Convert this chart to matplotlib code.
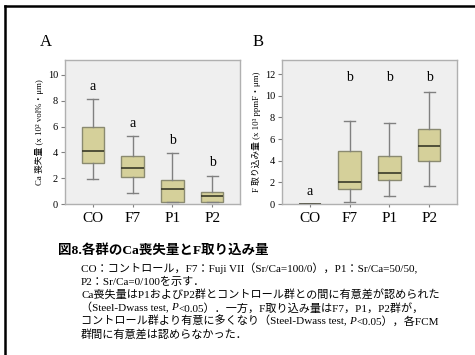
import matplotlib
matplotlib.use('Agg')
import matplotlib.pyplot as plt
from matplotlib.lines import Line2D

plt.rcParams['font.family'] = ['Liberation Serif', 'Noto Sans CJK JP']

## data
groups = ['CO', 'F7', 'P1', 'P2']
# Ca loss (x10^2 vol%・um)
ca_whislo = [1.95, 0.83, 0.12, 0.15]
ca_q1 = [3.15, 2.12, 0.13, 0.18]
ca_med = [4.1, 2.82, 1.16, 0.62]
ca_q3 = [6.0, 3.75, 1.86, 0.96]
ca_whishi = [8.15, 5.25, 3.98, 2.17]
ca_letters = ['a', 'a', 'b', 'b']
ca_letter_y = [8.6, 5.7, 4.4, 2.7]
# F uptake (x10^3 ppmF・um)
f_whislo = [0.0, 0.22, 0.77, 1.67]
f_q1 = [0.0, 1.36, 2.22, 4.01]
f_med = [0.0, 2.07, 2.9, 5.37]
f_q3 = [0.0, 4.85, 4.44, 6.91]
f_whishi = [0.0, 7.7, 7.47, 10.37]
f_letters = ['a', 'b', 'b', 'b']
f_letter_y = [0.6, 11.1, 11.1, 11.1]

caption_title = '図8.各群のCa喪失量とF取り込み量'
caption_lines = [
    [('CO：コントロール，F7：Fuji VII（Sr/Ca=100/0），P1：Sr/Ca=50/50,', 'normal')],
    [('P2：Sr/Ca=0/100を示す．', 'normal')],
    [('Ca喪失量はP1およびP2群とコントロール群との間に有意差が認められた', 'normal')],
    [('（Steel-Dwass test, ', 'normal'), ('P', 'italic'), ('<0.05）．一方，F取り込み量はF7，P1，P2群が，', 'normal')],
    [('コントロール群より有意に多くなり（Steel-Dwass test, ', 'normal'), ('P', 'italic'), ('<0.05），各FCM', 'normal')],
    [('群間に有意差は認めらなかった．', 'normal')],
]

W, H = 475, 355
fig = plt.figure(figsize=(W/100, H/100), dpi=100)
fig.patch.set_facecolor('white')

def px_axes(x0, y0, x1, y1):
    return fig.add_axes([x0/W, 1-y1/H, (x1-x0)/W, (y1-y0)/H])

def draw_panel(ax, lo, q1, med, q3, hi, letters, ly, ylim, yticks, ylabel):
    stats = []
    for i in range(len(groups)):
        stats.append(dict(whislo=lo[i], q1=q1[i], med=med[i], q3=q3[i], whishi=hi[i]))
    ax.bxp(stats, positions=range(1, 5), widths=0.56, showfliers=False, patch_artist=True,
           boxprops=dict(facecolor='#d5d09a', edgecolor='#8a8a70', linewidth=1.0),
           medianprops=dict(color='#3a3a28', linewidth=1.2),
           whiskerprops=dict(color='#808080', linewidth=1.0),
           capprops=dict(color='#808080', linewidth=1.0))
    ax.set_facecolor('#efefef')
    for s in ax.spines.values():
        s.set_color('#b0b0b0')
        s.set_linewidth(1.0)
    ax.set_xlim(0.3, 4.7)
    ax.set_ylim(*ylim)
    ax.set_yticks(yticks)
    ax.set_xticks(range(1, 5))
    ax.set_xticklabels(groups, fontsize=11)
    ax.tick_params(axis='y', labelsize=7.5, length=3, color='#808080', pad=2)
    ax.tick_params(axis='x', length=2, color='#808080', pad=4)
    ax.set_ylabel(ylabel, fontsize=6.3, labelpad=3)
    for i, t in enumerate(letters):
        ax.text(i+1, ly[i], t, ha='center', va='bottom', fontsize=10)

axA = px_axes(65, 60, 240, 204)
draw_panel(axA, ca_whislo, ca_q1, ca_med, ca_q3, ca_whishi, ca_letters, ca_letter_y,
           (0, 11.15), [0, 2, 4, 6, 8, 10], 'Ca 喪失量 (x 10² vol%・μm)')
axB = px_axes(282, 60, 457, 204)
draw_panel(axB, f_whislo, f_q1, f_med, f_q3, f_whishi, f_letters, f_letter_y,
           (0, 13.3), [0, 2, 4, 6, 8, 10, 12], 'F 取り込み量 (x 10³ ppmF・μm)')

fig.text(40/W, 1-42/H, 'A', fontsize=12, va='center', ha='left')
fig.text(253/W, 1-42/H, 'B', fontsize=12, va='center', ha='left')

# frame
fig.add_artist(Line2D([5/W, 5/W], [0, 1-6/H], color='black', linewidth=1.8))
fig.add_artist(Line2D([5/W, 1], [1-6/H, 1-6/H], color='black', linewidth=1.8))

# caption
fig.text(58/W, 1-250/H, caption_title, fontsize=9.7, fontweight='bold', va='center', ha='left')
renderer = fig.canvas.get_renderer()
line_y = [268, 282, 295, 308, 321, 334]
for segs, yy in zip(caption_lines, line_y):
    x = 81
    for s, st in segs:
        t = fig.text(x/W, 1-yy/H, s, fontsize=8.0, style=st, va='center', ha='left')
        bb = t.get_window_extent(renderer)
        x += bb.width

fig.savefig('out.png', dpi=100)
